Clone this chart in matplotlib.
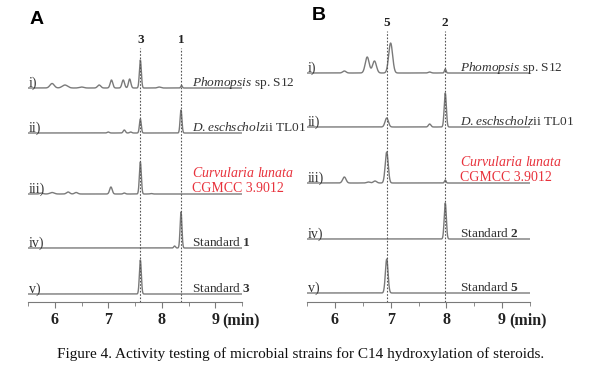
#!/usr/bin/env python3

import matplotlib
matplotlib.use("Agg")
import matplotlib.pyplot as plt
import numpy as np

plt.rcParams['font.family'] = ['Liberation Serif', 'DejaVu Serif']
plt.rcParams['mathtext.fontset'] = 'custom'
plt.rcParams['mathtext.rm'] = 'Liberation Serif'
plt.rcParams['mathtext.it'] = 'Liberation Serif:italic'
plt.rcParams['mathtext.bf'] = 'Liberation Serif:bold'

# retention time axis (min)
tick_vals = [6, 7, 8, 9]
tick_labels = ['6', '7', '8', '9']

# panel A: peaks as (retention time, height, width)
A_i = [(5.95, 4.5, 0.04), (6.19, 3, 0.05), (6.5, 1, 0.04), (6.83, 3, 0.03), (7.06, 8, 0.024),
       (7.28, 8, 0.024), (7.4, 9, 0.022), (7.6, 28, 0.018), (7.95, 1, 0.03), (8.37, 2.5, 0.014)]
A_ii = [(7.0, 1, 0.02), (7.3, 3, 0.02), (7.42, 1, 0.02), (7.6, 14, 0.017), (8.36, 23, 0.017)]
A_iii = [(5.75, 1, 0.03), (5.95, 1.5, 0.04), (6.25, 2, 0.03), (6.4, 1.5, 0.03),
         (7.05, 7, 0.024), (7.3, 1, 0.02), (7.6, 32, 0.018), (7.8, 0.5, 0.02)]
A_iv = [(8.24, 2, 0.016), (8.36, 36, 0.017)]
A_v = [(7.6, 34, 0.018)]
A_traces = [A_i, A_ii, A_iii, A_iv, A_v]
A_marks = [(7.6, '3'), (8.36, '1')]

# panel B
B_i = [(6.17, 2, 0.03), (6.58, 16, 0.035), (6.71, 12, 0.035), (7.0, 30, 0.035),
       (7.7, 1, 0.025), (7.98, 4, 0.014)]
B_ii = [(6.93, 9, 0.03), (7.7, 3, 0.022), (7.98, 34, 0.019)]
B_iii = [(6.17, 6, 0.03), (6.6, 1, 0.03), (6.72, 2, 0.03), (6.93, 31, 0.027), (7.98, 3, 0.014)]
B_iv = [(7.98, 36, 0.019)]
B_v = [(6.93, 34, 0.024)]
B_traces = [B_i, B_ii, B_iii, B_iv, B_v]
B_marks = [(6.93, '5'), (7.98, '2')]

roman = ['i)', 'ii)', 'iii)', 'iv)', 'v)']
A_names = [r'$\mathit{Phomopsis}$ sp. S12', r'$\mathit{D.eschscholz}$ii TL01', None,
           r'Standard $\mathbf{1}$', r'Standard $\mathbf{3}$']
B_names = [r'$\mathit{Phomopsis}$ sp. S12', r'$\mathit{D.eschscholz}$ii TL01', None,
           r'Standard $\mathbf{2}$', r'Standard $\mathbf{5}$']

W, H = 610, 370
fig = plt.figure(figsize=(6.1, 3.7), dpi=100)

TOP, AXIS = 20, 302
grey = '#7a7a7a'
red = '#e8323c'


def trace(t, peaks):
    y = np.zeros_like(t)
    for c, h, s in peaks:
        y += h * np.exp(-0.5 * ((t - c) / s) ** 2)
    return y


def panel(left, right, traces, baselines, marks, mark_top, names, name_x, letter, letter_xy):
    ax = fig.add_axes([left / W, 1 - AXIS / H, (right - left) / W, (AXIS - TOP) / H])
    ax.set_xlim(5.5, 9.5)
    ax.set_ylim(0, AXIS - TOP)
    t = np.linspace(5.5, 9.5, 3000)
    for peaks, base in zip(traces, baselines):
        off = AXIS - base
        ax.plot(t, off + trace(t, peaks), color=grey, lw=1.0)
    for x, lab in marks:
        ax.plot([x, x], [0, AXIS - mark_top - 8], color='#555555', ls=(0, (1.5, 1.5)), lw=0.8)
        ax.text(x, AXIS - mark_top, lab, ha='center', va='center', fontsize=9.5,
                fontweight='bold', color='#222222')
    for lab, name, base in zip(roman, names, baselines):
        off = AXIS - base
        ax.text(5.52, off + 1.5, lab, ha='left', va='baseline', fontsize=10, color='#333333')
        if name is not None:
            ax.text(name_x, off + 2, name, ha='left', va='baseline', fontsize=9.6, color='#333333')
    off = AXIS - baselines[2]
    ax.text(name_x, off + 17, r'$\mathit{Curvularia\ lunata}$', ha='left', va='baseline',
            fontsize=10, color=red)
    ax.text(name_x, off + 2, 'CGMCC 3.9012', ha='left', va='baseline', fontsize=10, color=red)

    for s in ['top', 'left', 'right']:
        ax.spines[s].set_visible(False)
    ax.spines['bottom'].set_color(grey)
    ax.set_yticks([])
    ax.set_xticks(tick_vals)
    ax.set_xticklabels(tick_labels, fontweight='bold', fontsize=11.5, color='#222222')
    ax.set_xticks(np.arange(5.5, 9.6, 0.5), minor=True)
    ax.tick_params(axis='x', which='major', length=4, color=grey, pad=3)
    ax.tick_params(axis='x', which='minor', length=3, color=grey)
    ax.text(9.13, -10.5, '(min)', ha='left', va='top', fontsize=11.5, fontweight='bold',
            color='#222222', clip_on=False)
    fig.text(letter_xy[0] / W, 1 - letter_xy[1] / H, letter, family='Liberation Sans',
             fontweight='bold', fontsize=14, ha='center', va='center')
    return ax


panel(28, 242, A_traces, [88, 133, 194, 248, 294], A_marks, 40, A_names, 8.57, 'A', (37, 19))
panel(307, 530, B_traces, [73, 127, 183, 239, 293], B_marks, 23, B_names, 8.24, 'B', (319, 16))

fig.text(301 / W, 1 - 354 / H,
         'Figure 4. Activity testing of microbial strains for C14 hydroxylation of steroids.',
         ha='center', va='center', fontsize=11, color='#111111')

fig.savefig('out.png', dpi=100)
